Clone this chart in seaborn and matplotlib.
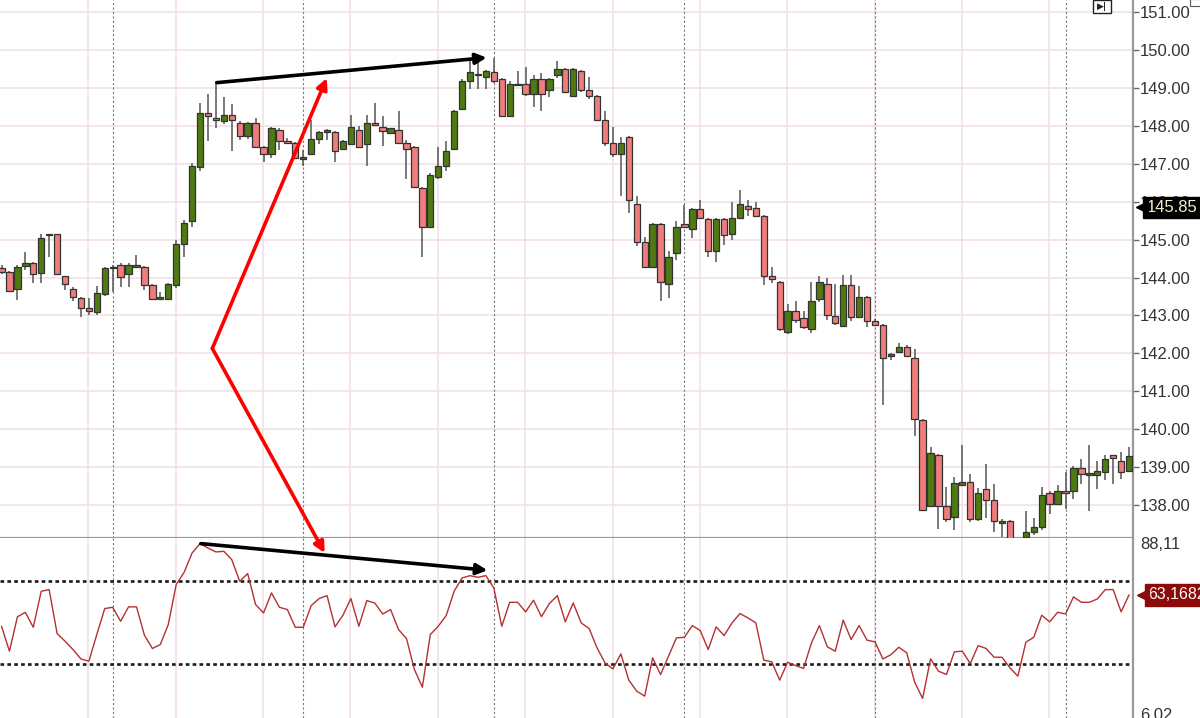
import numpy as np
import pandas as pd
import matplotlib
matplotlib.use('Agg')
import matplotlib.pyplot as plt
from matplotlib.patches import ConnectionPatch, Rectangle
import seaborn as sns

# hourly candles, left to right
opens = [144.25, 144.14, 143.69, 144.30, 144.38, 144.13, 145.12, 145.14, 144.03, 143.69,
         143.47, 143.19, 143.08, 143.56, 144.25, 144.33, 144.09, 144.29, 144.29, 143.79,
         143.44, 143.44, 143.79, 144.89, 145.50, 146.91, 148.34, 148.20, 148.14, 148.28,
         148.07, 147.74, 148.07, 147.44, 147.25, 147.90, 147.60, 147.54, 147.12, 147.26,
         147.65, 147.85, 147.85, 147.39, 147.52, 147.90, 147.52, 148.07, 147.98, 147.81,
         147.90, 147.54, 147.44, 146.36, 145.32, 146.64, 146.95, 147.39, 148.44, 149.19,
         149.34, 149.28, 149.41, 149.24, 148.25, 149.07, 149.10, 148.84, 149.23, 148.95,
         149.35, 149.50, 148.80, 149.45, 148.95, 148.80, 148.16, 147.56, 147.25, 147.70,
         145.93, 144.95, 144.29, 145.41, 143.83, 144.64, 145.41, 145.28, 145.80, 145.55,
         144.69, 145.55, 145.15, 145.58, 145.89, 145.84, 145.63, 144.04, 143.89, 142.57,
         143.12, 142.94, 142.65, 143.43, 143.83, 142.99, 142.73, 143.79, 142.96, 143.48,
         142.85, 142.74, 141.93, 142.03, 142.16, 141.88, 140.25, 137.97, 139.33, 137.97,
         137.68, 138.53, 138.62, 137.62, 138.43, 138.14, 137.53, 137.57, 137.05, 137.15,
         137.28, 137.42, 138.32, 138.03, 138.38, 138.38, 138.98, 138.80, 138.78, 138.87,
         139.31, 139.17, 138.91]
highs = [144.33, 144.16, 144.33, 144.68, 144.40, 145.15, 145.16, 145.15, 144.05, 143.74,
         143.49, 143.47, 143.78, 144.27, 144.33, 144.38, 144.38, 144.59, 144.31, 143.82,
         143.63, 143.85, 144.99, 145.52, 147.02, 148.60, 148.84, 149.10, 148.75, 148.58,
         148.14, 148.09, 148.20, 147.48, 147.96, 147.95, 147.69, 147.57, 147.37, 148.16,
         147.86, 147.93, 147.87, 147.64, 148.29, 147.99, 148.29, 148.60, 148.25, 147.95,
         148.38, 147.63, 147.48, 146.38, 146.75, 147.44, 147.60, 148.42, 149.23, 149.70,
         149.70, 149.48, 149.80, 149.26, 149.19, 149.45, 149.54, 149.35, 149.39, 149.27,
         149.70, 149.52, 149.52, 149.47, 149.28, 148.82, 148.38, 147.98, 147.70, 147.72,
         146.14, 145.08, 145.43, 145.43, 144.69, 145.49, 145.90, 145.83, 146.05, 145.57,
         145.57, 145.57, 146.00, 146.31, 146.05, 146.00, 145.65, 144.29, 143.91, 143.30,
         143.39, 143.12, 143.89, 144.04, 143.98, 143.83, 144.07, 144.07, 143.78, 143.50,
         142.90, 142.78, 142.02, 142.27, 142.22, 142.12, 140.27, 139.53, 139.35, 138.47,
         138.73, 139.57, 138.82, 138.45, 139.09, 138.55, 137.62, 137.60, 137.10, 137.85,
         137.65, 138.47, 138.38, 138.54, 138.86, 139.04, 139.22, 139.57, 139.17, 139.31,
         139.33, 139.39, 139.53]
lows = [144.10, 143.63, 143.41, 144.20, 143.85, 143.85, 144.55, 144.08, 143.66, 143.37,
        142.97, 143.01, 143.01, 143.50, 143.61, 143.74, 143.74, 144.26, 143.67, 143.43,
        143.43, 143.43, 143.72, 144.55, 145.34, 146.80, 147.61, 147.94, 148.04, 147.35,
        147.63, 147.65, 147.43, 147.06, 147.15, 147.37, 147.51, 147.14, 146.95, 147.25,
        147.52, 147.62, 147.04, 147.38, 147.51, 147.43, 146.93, 148.02, 147.46, 147.80,
        147.53, 146.60, 146.38, 144.55, 145.30, 146.60, 146.80, 147.37, 148.42, 148.98,
        148.98, 148.98, 149.13, 148.24, 148.24, 149.04, 148.80, 148.51, 148.40, 148.77,
        149.26, 148.88, 148.79, 148.89, 148.71, 148.15, 147.46, 147.19, 146.15, 145.71,
        144.82, 144.27, 144.27, 143.37, 143.45, 144.45, 145.30, 145.04, 145.56, 144.55,
        144.42, 144.86, 144.98, 145.56, 145.62, 145.60, 143.81, 143.85, 142.59, 142.50,
        142.80, 142.65, 142.55, 143.35, 142.88, 142.74, 142.70, 142.85, 142.94, 142.70,
        142.72, 140.63, 141.83, 142.00, 141.90, 139.83, 137.86, 137.95, 137.37, 137.55,
        137.33, 138.50, 137.55, 137.58, 137.65, 137.28, 137.15, 136.90, 136.80, 137.10,
        137.20, 137.33, 137.75, 138.00, 137.90, 138.16, 138.56, 137.85, 138.43, 138.65,
        138.56, 138.69, 138.88]
closes = [144.14, 143.65, 144.29, 144.39, 144.09, 145.04, 145.14, 144.09, 143.83, 143.48,
          143.19, 143.13, 143.60, 144.25, 144.29, 144.01, 144.33, 144.33, 143.79, 143.44,
          143.47, 143.83, 144.89, 145.45, 146.95, 148.34, 148.25, 148.16, 148.28, 148.16,
          147.74, 148.07, 147.44, 147.25, 147.94, 147.59, 147.54, 147.15, 147.17, 147.65,
          147.85, 147.90, 147.34, 147.60, 147.98, 147.44, 148.07, 148.03, 147.87, 147.94,
          147.54, 147.38, 146.40, 145.34, 146.71, 146.95, 147.34, 148.38, 149.19, 149.41,
          149.36, 149.45, 149.19, 148.25, 149.10, 149.09, 148.84, 149.23, 148.84, 149.23,
          149.50, 148.89, 149.50, 148.95, 148.80, 148.16, 147.54, 147.25, 147.56, 146.05,
          144.95, 144.29, 145.41, 143.89, 144.55, 145.32, 145.32, 145.80, 145.58, 144.69,
          145.55, 145.11, 145.58, 145.93, 145.80, 145.63, 144.04, 143.96, 142.65, 143.12,
          142.89, 142.70, 143.39, 143.89, 143.01, 142.79, 143.79, 142.95, 143.48, 142.85,
          142.74, 141.88, 141.97, 142.16, 141.94, 140.26, 137.88, 139.38, 137.97, 137.63,
          138.58, 138.62, 137.62, 138.32, 138.14, 137.57, 137.59, 137.05, 136.95, 137.28,
          137.42, 138.27, 138.03, 138.38, 138.32, 138.98, 138.82, 138.84, 138.91, 139.22,
          139.24, 138.87, 139.29]
rsi = [48.1, 36.1, 52.6, 54.8, 47.6, 64.9, 65.7, 44.6, 40.9, 36.9,
       32.4, 31.3, 44.1, 56.6, 57.2, 50.5, 57.4, 57.4, 43.8, 37.4,
       39.3, 48.9, 68.1, 74.0, 83.3, 87.8, 85.7, 83.8, 84.1, 80.1,
       69.7, 73.4, 58.5, 54.5, 64.1, 57.2, 56.1, 47.6, 47.6, 58.0,
       61.4, 62.8, 47.8, 53.4, 61.4, 48.1, 60.4, 59.3, 54.0, 56.1,
       46.5, 42.2, 27.3, 18.8, 44.1, 48.1, 53.2, 64.9, 71.3, 72.4,
       71.6, 72.4, 66.5, 48.1, 59.6, 59.6, 55.0, 60.6, 52.7, 59.0,
       62.8, 50.2, 59.3, 49.7, 47.0, 37.7, 30.5, 27.6, 34.8, 22.2,
       16.9, 14.5, 32.9, 24.9, 33.7, 42.5, 42.8, 48.4, 46.0, 36.9,
       47.8, 43.6, 49.7, 54.2, 52.1, 49.7, 31.8, 31.0, 22.2, 30.8,
       29.2, 27.8, 40.1, 48.4, 38.2, 36.1, 51.0, 41.7, 48.4, 41.4,
       40.6, 32.4, 34.4, 38.0, 35.3, 21.2, 13.4, 32.4, 26.5, 24.9,
       35.8, 36.1, 30.2, 38.8, 37.4, 33.2, 33.2, 28.1, 24.1, 40.4,
       42.8, 53.4, 50.2, 54.8, 54.0, 62.2, 59.6, 59.6, 61.2, 65.7,
       65.7, 55.0, 63.2]

price_ticks = [138, 139, 140, 141, 142, 143, 144, 145, 146, 147, 148, 149, 150, 151]
rsi_levels = [30, 70]
rsi_ticks = [6.02, 88.11]
rsi_tick_labels = ['6,02', '88,11']
last_price = 145.85
last_rsi_label = '63,1682'
last_rsi = 63.1682

sns.set_style('white')
plt.rcParams['font.family'] = ['Liberation Sans', 'DejaVu Sans']

df = pd.DataFrame({'open': opens, 'high': highs, 'low': lows, 'close': closes, 'rsi': rsi})
df['bar'] = np.arange(len(df))
df['up'] = df['close'] >= df['open']

GREEN = '#4f7a12'
RED = '#f07c7c'
PINK = '#f1e0e6'

fig = plt.figure(figsize=(12, 7.18), dpi=100)
ax = fig.add_axes([0, 0.2507, 0.9442, 0.7493])
ax2 = fig.add_axes([0, 0, 0.9442, 0.2507])

for a in (ax, ax2):
    a.set_xlim(-0.19, 142.5)
    a.set_xticks([])
    for k in range(1, 13):
        a.axvline(11 * k - 0.05, color=PINK, lw=1.2, zorder=0)
    for k in range(14, 143, 24):
        a.axvline(k, color='#7a7a7a', lw=0.8, ls=(0, (2, 2)), zorder=0.5)
    for s in ('left', 'top'):
        a.spines[s].set_visible(False)
    a.spines['right'].set_color('#9a9a9a')
    a.spines['right'].set_linewidth(1.6)

# price panel
ax.set_ylim(137.13, 151.32)
for p in price_ticks:
    ax.axhline(p, color=PINK, lw=1.2, zorder=0)
ax.vlines(df['bar'], df['low'], df['high'], color='#555555', lw=1.1, zorder=2)
body_h = (df['close'] - df['open']).abs().clip(lower=0.035)
body_b = df[['open', 'close']].min(axis=1)
ax.bar(df['bar'], body_h, bottom=body_b, width=0.8,
       color=np.where(df['up'], GREEN, RED), edgecolor='#333333', lw=0.9, zorder=3)
ax.spines['bottom'].set_color('#9a9a9a')
ax.spines['bottom'].set_linewidth(1.6)
ax.yaxis.tick_right()
ax.set_yticks(price_ticks)
ax.set_yticklabels([f'{p:.2f}' for p in price_ticks])
ax.tick_params(axis='y', direction='out', length=4, width=1, color='#666666',
               labelsize=12, labelcolor='#333333', pad=1)

# last price marker: square box with a small pointer at the axis
ytr = ax.get_yaxis_transform()
ax.text(1.012, last_price, f'{last_price:.2f}', transform=ytr,
        ha='left', va='center', fontsize=12, color='#f4eec8', clip_on=False, zorder=10,
        bbox=dict(boxstyle='square,pad=0.2', fc='black', ec='black'))
ax.plot([1.0075], [last_price], marker='<', ms=9, color='black', transform=ytr,
        clip_on=False, zorder=11)

# RSI panel
sns.lineplot(x=df['bar'], y=df['rsi'], ax=ax2, color='#b53030', lw=1.0, zorder=3)
for lv in rsi_levels:
    ax2.axhline(lv, color='#1a1a1a', lw=1.9, ls=(0, (1.4, 1.2)), zorder=2)
ax2.set_ylim(4.0, 90.5)
ax2.spines['bottom'].set_visible(False)
ax2.yaxis.tick_right()
ax2.set_yticks(rsi_ticks)
ax2.set_yticklabels(rsi_tick_labels)
ax2.tick_params(axis='y', length=0, labelsize=12, labelcolor='#333333', pad=5)
ax2.set_xlabel('')
ax2.set_ylabel('')
ytr2 = ax2.get_yaxis_transform()
ax2.text(1.0135, last_rsi, last_rsi_label, transform=ytr2,
         ha='left', va='center', fontsize=11.5, color='white', clip_on=False, zorder=10,
         bbox=dict(boxstyle='square,pad=0.2', fc='#8b0a0a', ec='#8b0a0a'))
ax2.plot([1.0085], [last_rsi], marker='<', ms=9, color='#8b0a0a', transform=ytr2,
         clip_on=False, zorder=11)

# divergence annotations
arrow_k = dict(arrowstyle='-|>', lw=2.6, mutation_scale=16, shrinkA=0, shrinkB=0)
ax.annotate('', xy=(61.1, 149.80), xytext=(27.1, 149.14),
            arrowprops=dict(color='black', **arrow_k))
ax2.annotate('', xy=(61.2, 75.0), xytext=(25.1, 87.8),
             arrowprops=dict(color='black', **arrow_k))
ax.annotate('', xy=(40.96, 149.26), xytext=(26.55, 142.13),
            arrowprops=dict(color='#ff0000', **arrow_k))
down = ConnectionPatch(xyA=(26.55, 142.13), coordsA=ax.transData,
                       xyB=(40.7, 83.3), coordsB=ax2.transData,
                       color='#ff0000', zorder=20, **arrow_k)
fig.add_artist(down)

# small chart buttons in the top right corner
fig.add_artist(Rectangle((1093 / 1200, 1 - 13 / 718), 18 / 1200, 13 / 718,
                         transform=fig.transFigure, fc='white', ec='#222222', lw=1))
fig.text(1102 / 1200, 1 - 6.5 / 718, '▶|', fontsize=6.5, fontweight='bold',
         ha='center', va='center', family='DejaVu Sans')
fig.add_artist(Rectangle((1190 / 1200, 1 - 6 / 718), 12 / 1200, 7 / 718,
                         transform=fig.transFigure, fc='white', ec='#555555', lw=0.8))

plt.savefig('out.png', dpi=100)
